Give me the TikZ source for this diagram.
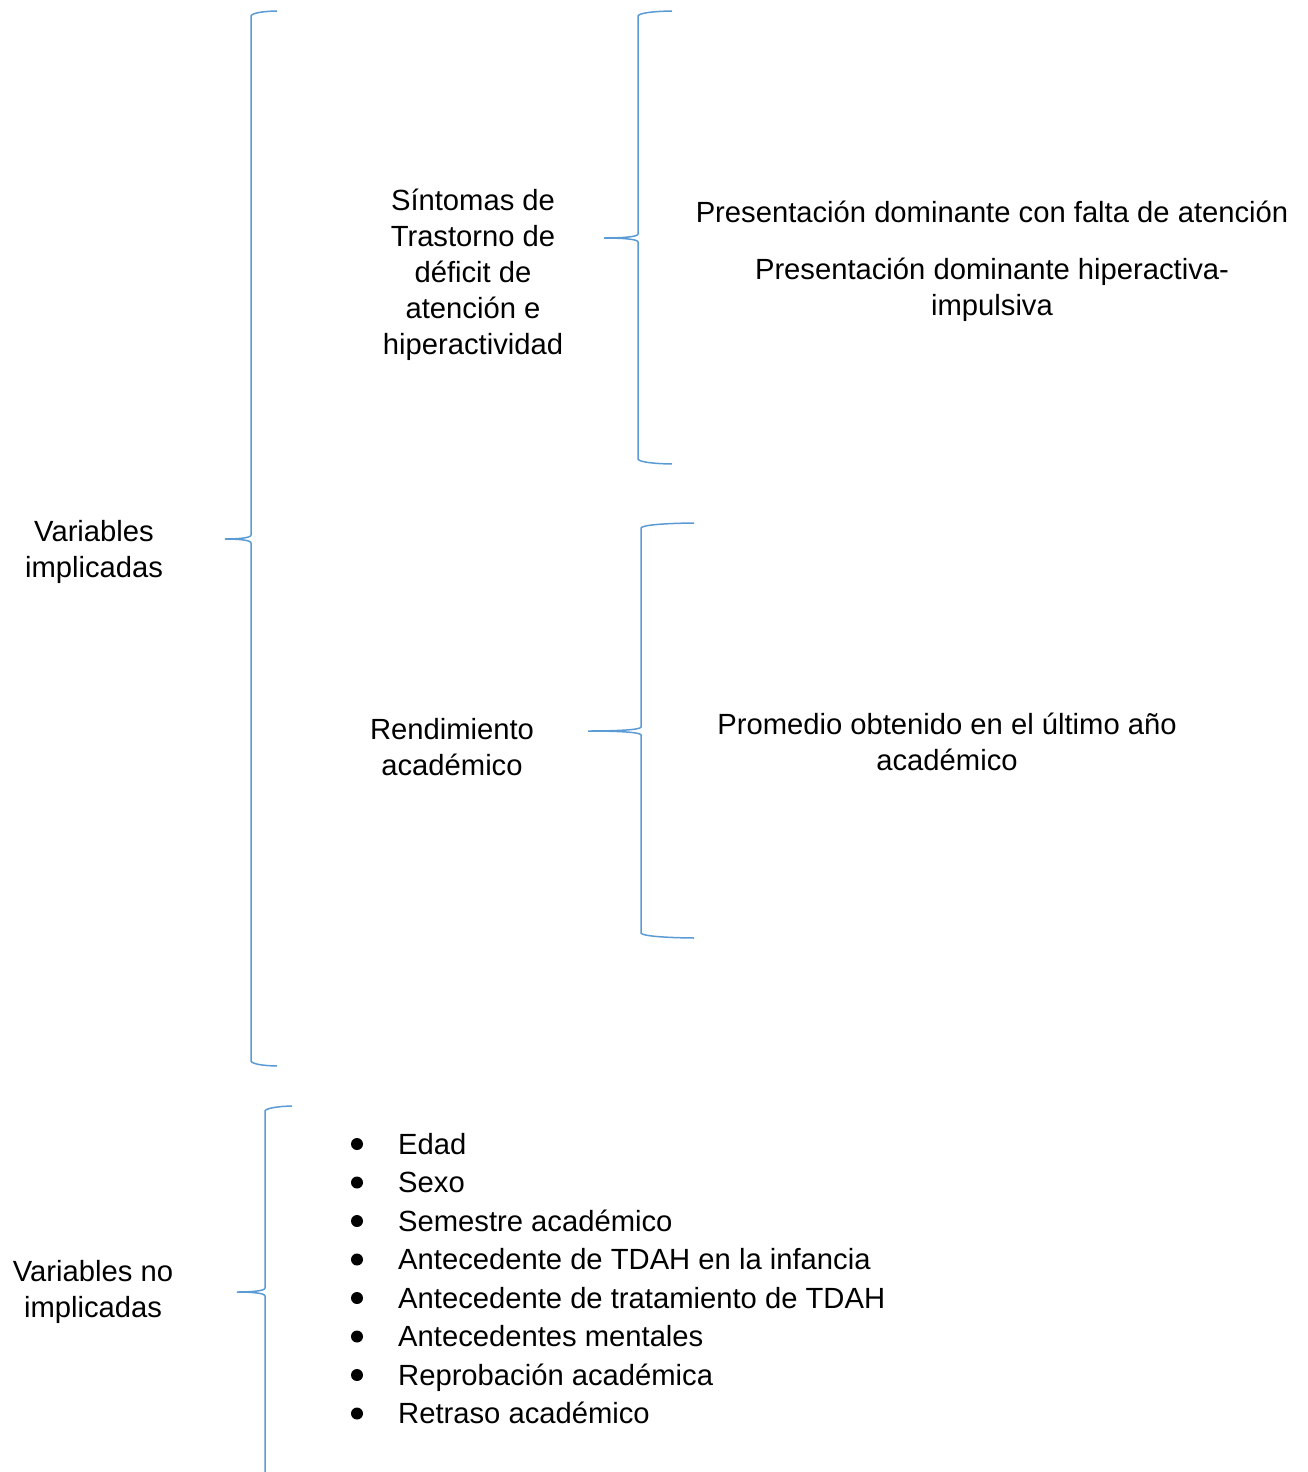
\documentclass[tikz,border=0pt]{standalone}
\usepackage{fontspec}
\setmainfont{Liberation Sans}
\definecolor{bracec}{HTML}{5B9BD5}
\newcommand\mybrace[6]{% xv, xend, ytop, ytip, ybot, xtip
  \draw[bracestyle] (#2,#3) .. controls ({#1+0.45*(#2-#1)},#3+0.3) and (#1+1,#3+2) .. (#1,#3+5)
    -- (#1,#4-4) .. controls (#1,#4-1) and ({#6+0.5*(#1-#6)},#4) .. (#6,#4)
    .. controls ({#6+0.5*(#1-#6)},#4) and (#1,#4+1) .. (#1,#4+4)
    -- (#1,#5-5) .. controls (#1+1,#5-2) and ({#1+0.45*(#2-#1)},#5-0.3) .. (#2,#5);}
\begin{document}
\begin{tikzpicture}[x=1pt,y=-1pt,
  bracestyle/.style={draw=bracec,line width=1.5pt},
  lbl/.style={inner sep=0pt,align=center,anchor=base,font=\fontsize{29.2}{36}\selectfont},
  item/.style={inner sep=0pt,anchor=base west,font=\fontsize{29.2}{36}\selectfont},
  dot/.style={circle,fill=black,minimum size=12pt,inner sep=0pt}]
\useasboundingbox (0,0) rectangle (1308,1472);
\mybrace{251}{277}{11}{539}{1066}{225}
\mybrace{638}{672}{11}{238}{464}{604}
\mybrace{641}{694}{523}{731}{938}{588}
\draw[bracestyle] (292,1106) .. controls (279,1106.3) and (266,1108) .. (265,1111)
    -- (265,1288) .. controls (265,1291) and (251,1292) .. (237,1292)
    .. controls (251,1292) and (265,1293) .. (265,1296) -- (265,1480);
\node[lbl] (vi) at (94,577) {Variables\\implicadas};
\node[lbl] (sint) at (473,354) {Síntomas de\\Trastorno de\\déficit de\\atención e\\hiperactividad};
\node[lbl] (p1) at (992,222) {Presentación dominante con falta de atención};
\node[lbl] (p2) at (992,315) {Presentación dominante hiperactiva-\\impulsiva};
\node[lbl] (rend) at (452,775) {Rendimiento\\académico};
\node[lbl] (prom) at (947,770) {Promedio obtenido en el último año\\académico};
\node[lbl] (vni) at (93,1317) {Variables no\\implicadas};
\foreach \t [count=\i from 0] in {Edad,Sexo,Semestre académico,Antecedente de TDAH en la infancia,Antecedente de tratamiento de TDAH,Antecedentes mentales,Reprobación académica,Retraso académico}{
  \node[dot] (b\i) at (357,{1154+38.5*\i-10}) {};
  \node[item] (t\i) at (398,{1154+38.5*\i}) {\t};
}
\end{tikzpicture}
\end{document}
